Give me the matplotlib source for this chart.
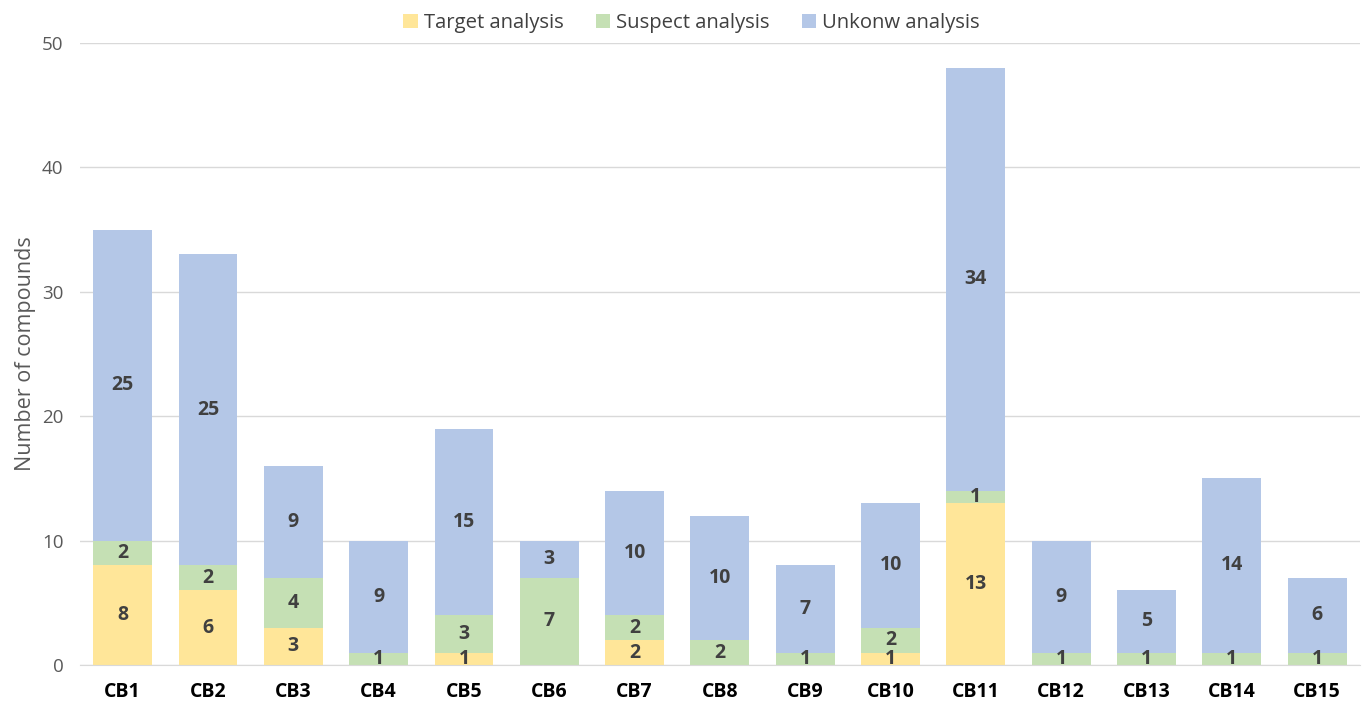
import numpy as np
import matplotlib

matplotlib.use("Agg")
import matplotlib.pyplot as plt

plt.rcParams["font.family"] = ["Open Sans", "DejaVu Sans"]

categories = ["CB1", "CB2", "CB3", "CB4", "CB5", "CB6", "CB7", "CB8",
              "CB9", "CB10", "CB11", "CB12", "CB13", "CB14", "CB15"]
target = [8, 6, 3, 0, 1, 0, 2, 0, 0, 1, 13, 0, 0, 0, 0]
suspect = [2, 2, 4, 1, 3, 7, 2, 2, 1, 2, 1, 1, 1, 1, 1]
unknown = [25, 25, 9, 9, 15, 3, 10, 10, 7, 10, 34, 9, 5, 14, 6]

series = [
    ("Target analysis", target, "#FFE699"),
    ("Suspect analysis", suspect, "#C5E0B4"),
    ("Unkonw analysis", unknown, "#B4C7E7"),
]

fig = plt.figure(figsize=(13.63, 7.01), dpi=100)
ax = fig.add_axes([0.0587, 0.0514, 0.939, 0.8873])

x = np.arange(len(categories))
bottom = np.zeros(len(categories))
for name, vals, color in series:
    vals = np.array(vals, dtype=float)
    ax.bar(x, vals, bottom=bottom, width=0.69, color=color, label=name, zorder=2)
    for xi, b, v in zip(x, bottom, vals):
        if v > 0:
            ax.text(xi, b + v / 2, f"{int(v)}", ha="center", va="center",
                    fontsize=14, fontweight="bold", color="#404040", zorder=3)
    bottom += vals

ax.set_xlim(-0.5, len(categories) - 0.5)
ax.set_ylim(0, 50)
ax.set_yticks(range(0, 51, 10))
ax.set_xticks(x)
ax.set_xticklabels(categories, fontsize=14, fontweight="bold", color="black")
ax.tick_params(axis="x", length=0, pad=12)
ax.tick_params(axis="y", length=0, labelsize=13.5, labelcolor="#595959", pad=12)
ax.grid(axis="y", color="#D9D9D9", linewidth=1, zorder=0)
for s in ["top", "right", "left"]:
    ax.spines[s].set_visible(False)
ax.spines["bottom"].set_color("#D9D9D9")
ax.set_ylabel("Number of compounds", fontsize=15.5, color="#595959", labelpad=4)

ax.legend(loc="lower center", bbox_to_anchor=(0.478, 1.0), ncol=3, frameon=False,
          fontsize=14.6, handlelength=0.7, handleheight=0.7, handletextpad=0.3,
          columnspacing=1.6, labelcolor="#404040", borderaxespad=0.1)

fig.savefig("out.png", dpi=100)
